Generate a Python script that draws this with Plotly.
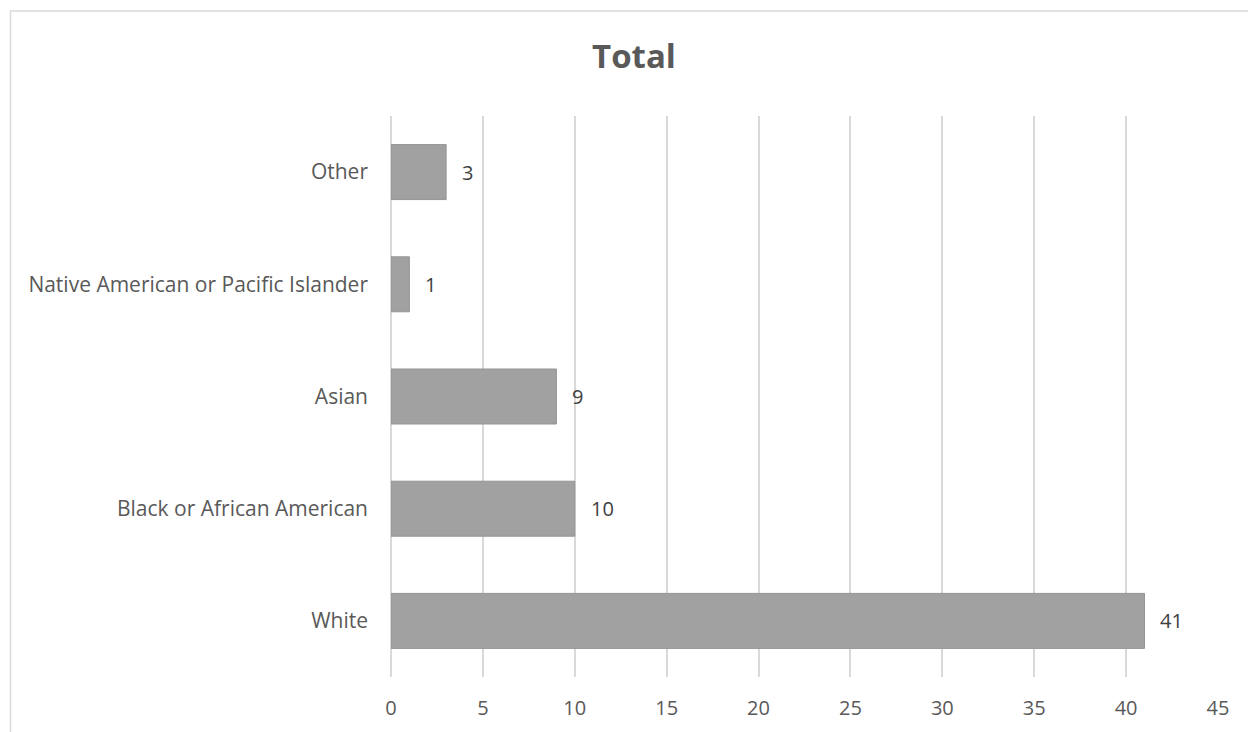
import plotly.graph_objects as go

categories = ["White", "Black or African American", "Asian",
              "Native American or Pacific Islander", "Other"]
totals = [41, 10, 9, 1, 3]
x_ticks = [0, 5, 10, 15, 20, 25, 30, 35, 40, 45]

W, H = 1248, 732
L, R, T, B = 391, 30, 116, 55
pw, ph = W - L - R, H - T - B
FONT = "Open Sans"

def px_x(p):
    return (p - L) / pw

def px_y(p):
    return (H - B - p) / ph

fig = go.Figure()
fig.add_trace(go.Bar(
    y=categories, x=totals, orientation="h",
    marker=dict(color="#a1a1a1", line=dict(color="#949494", width=1)),
    width=0.49, hoverinfo="x+y",
))

# value labels just past the end of each bar
for cat, v in zip(categories, totals):
    fig.add_annotation(x=v, y=cat, text=str(v), showarrow=False,
                       xanchor="left", xshift=14,
                       font=dict(family=FONT, size=20, color="#404040"))

fig.update_layout(
    width=W, height=H,
    margin=dict(l=L, r=R, t=T, b=B),
    paper_bgcolor="white", plot_bgcolor="white",
    showlegend=False,
    title=dict(text="<b>Total</b>", x=634 / W, xanchor="center",
               y=1 - 56 / H, yanchor="middle",
               font=dict(family=FONT, size=33, color="#595959")),
    xaxis=dict(range=[0, 45], tickvals=x_ticks, showgrid=True,
               gridcolor="#d9d9d9", gridwidth=1.5,
               zeroline=True, zerolinecolor="#d9d9d9", zerolinewidth=1.5,
               showline=False, ticks="", ticklabelstandoff=17,
               tickfont=dict(family=FONT, size=20, color="#595959")),
    yaxis=dict(showgrid=False, zeroline=False, showline=False, ticks="",
               ticklabelstandoff=22,
               tickfont=dict(family=FONT, size=21, color="#595959")),
    shapes=[dict(type="rect", xref="paper", yref="paper",
                 x0=px_x(10.5), x1=px_x(W + 5), y0=px_y(H + 5), y1=px_y(11),
                 line=dict(color="#d9d9d9", width=1.5), layer="below")],
)

fig.write_html("out.html")
